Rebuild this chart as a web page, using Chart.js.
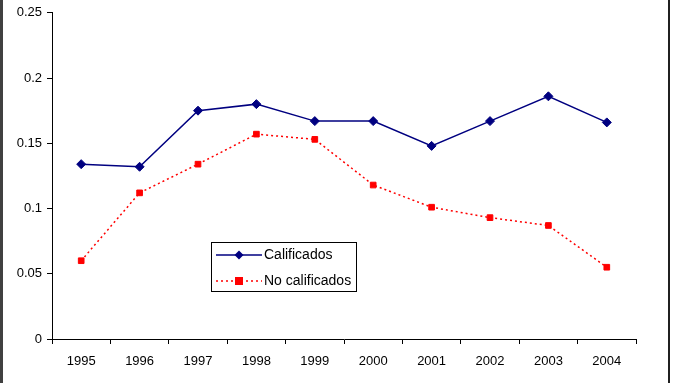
<!DOCTYPE html>
<html>
<head>
<meta charset="utf-8">
<script src="https://cdn.jsdelivr.net/npm/chart.js@4/dist/chart.umd.min.js"></script>
<style>
html,body{margin:0;padding:0;background:#fff;}
#wrap{position:relative;width:675px;height:383px;}
#bl{position:absolute;left:0;top:0;width:3px;height:383px;background:#404040;}
#br{position:absolute;left:668px;top:0;width:2px;height:383px;background:#202020;}
</style>
</head>
<body>
<div id="wrap">
<canvas id="c" width="675" height="383"></canvas>
<div id="bl"></div><div id="br"></div>
</div>
<script>
const categories = ["1995","1996","1997","1998","1999","2000","2001","2002","2003","2004"];
const calificados = [0.134,0.132,0.175,0.180,0.167,0.167,0.148,0.167,0.186,0.166];
const noCalificados = [0.060,0.112,0.134,0.157,0.153,0.118,0.101,0.093,0.087,0.055];
const yTickLabels = ["0","0.05","0.1","0.15","0.2","0.25"];
const seriesNames = ["Calificados","No calificados"];

const FONT = "'Liberation Sans', Arial, sans-serif";

const legendPlugin = {
  id: 'boxLegend',
  afterDraw(chart){
    const ctx = chart.ctx;
    ctx.save();
    const x0 = 211.5, y0 = 242.5, w = 145, h = 49;
    ctx.fillStyle = '#fff';
    ctx.fillRect(x0, y0, w, h);
    ctx.strokeStyle = '#000';
    ctx.lineWidth = 1;
    ctx.strokeRect(x0, y0, w, h);
    const rows = [255, 281];
    chart.data.datasets.forEach((ds, i) => {
      const y = rows[i];
      ctx.strokeStyle = ds.borderColor;
      ctx.lineWidth = ds.borderWidth;
      ctx.setLineDash(ds.borderDash || []);
      ctx.beginPath();
      ctx.moveTo(216, y);
      ctx.lineTo(262, y);
      ctx.stroke();
      ctx.setLineDash([]);
      ctx.fillStyle = ds.pointBackgroundColor;
      if (ds.pointStyle === 'rectRot') {
        ctx.beginPath();
        ctx.moveTo(239, y-4.5); ctx.lineTo(243.5, y); ctx.lineTo(239, y+4.5); ctx.lineTo(234.5, y);
        ctx.closePath(); ctx.fill();
      } else {
        ctx.fillRect(235, y-4, 8, 8);
      }
      ctx.fillStyle = '#000';
      ctx.font = '14px ' + FONT;
      ctx.textBaseline = 'middle';
      ctx.textAlign = 'left';
      ctx.fillText(ds.label, 264, y);
    });
    ctx.restore();
  }
};

new Chart(document.getElementById('c'), {
  type: 'line',
  data: {
    labels: categories,
    datasets: [
      {
        label: seriesNames[0],
        data: calificados,
        borderColor: '#000080',
        backgroundColor: '#000080',
        pointBackgroundColor: '#000080',
        pointBorderColor: '#000080',
        borderWidth: 1.5,
        pointStyle: 'rectRot',
        pointRadius: 4.5,
        pointBorderWidth: 1,
        tension: 0
      },
      {
        label: seriesNames[1],
        data: noCalificados,
        borderColor: '#FF0000',
        backgroundColor: '#FF0000',
        pointBackgroundColor: '#FF0000',
        pointBorderColor: '#FF0000',
        borderWidth: 1.5,
        borderDash: [2, 3],
        pointStyle: 'rect',
        pointRadius: 4,
        pointBorderWidth: 1,
        tension: 0
      }
    ]
  },
  options: {
    responsive: false,
    animation: false,
    devicePixelRatio: 1,
    layout: { padding: { top: 12, right: 39, left: 0, bottom: 0 } },
    plugins: { legend: { display: false }, tooltip: { enabled: false } },
    scales: {
      x: {
        offset: true,
        afterFit(s){ s.height = 44; },
        grid: { offset: true, drawOnChartArea: false, drawTicks: true, tickLength: 5, color: '#000', lineWidth: 1 },
        border: { display: true, color: '#000', width: 1 },
        ticks: { color: '#000', font: { family: FONT, size: 13 }, padding: 10, maxRotation: 0, autoSkip: false }
      },
      y: {
        min: 0, max: 0.25,
        afterFit(s){ s.width = 52; },
        grid: { drawOnChartArea: false, drawTicks: true, tickLength: 5, color: '#000', lineWidth: 1 },
        border: { display: true, color: '#000', width: 1 },
        ticks: {
          stepSize: 0.05,
          color: '#000',
          font: { family: FONT, size: 13 },
          padding: 5,
          callback: (v, i) => yTickLabels[i]
        }
      }
    }
  },
  plugins: [legendPlugin]
});
</script>
</body>
</html>
